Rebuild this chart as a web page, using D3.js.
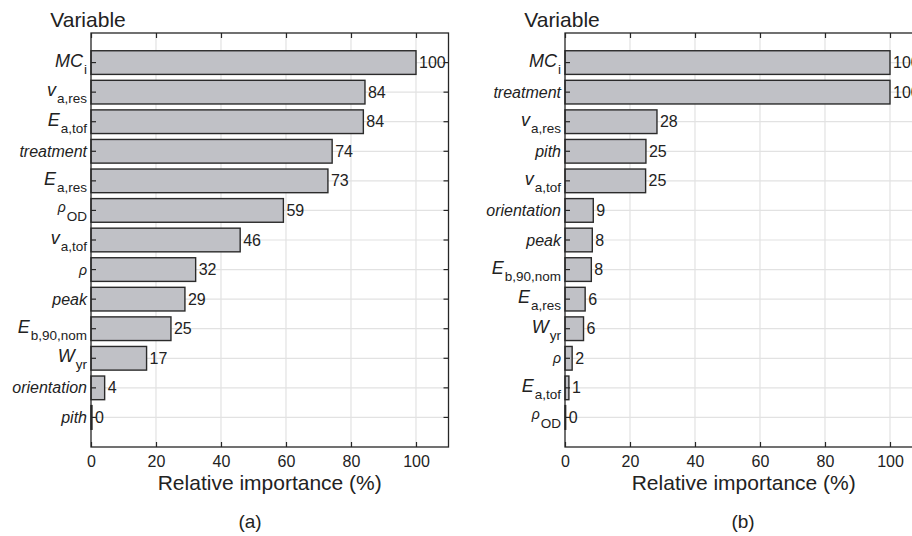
<!DOCTYPE html>
<html>
<head>
<meta charset="utf-8">
<script src="https://cdn.jsdelivr.net/npm/d3@7"></script>
<style>
  body { margin: 0; background: #fff; }
  svg { display: block; font-family: "Liberation Sans", Arial, Helvetica, sans-serif; }
  .grid line { stroke: #e2e2e2; stroke-width: 1.2; }
  .bar { fill: #c0c1c6; stroke: #2b2b2b; stroke-width: 1.4; }
</style>
</head>
<body>
<div id="chart"></div>
<script>
// label keys: each variable is drawn as main (italic) + optional subscript
var varsA   = ["MCi", "vares", "Eatof", "treatment", "Eares", "rhoOD", "vatof", "rho", "peak", "Eb90", "Wyr", "orientation", "pith"];
var valuesA = [100, 84.3, 83.8, 74.2, 72.9, 59.2, 45.9, 32.2, 28.9, 24.6, 17.1, 4.2, 0.3];

var varsB   = ["MCi", "treatment", "vares", "pith", "vatof", "orientation", "peak", "Eb90", "Eares", "Wyr", "rho", "Eatof", "rhoOD"];
var valuesB = [100, 100, 28.3, 24.9, 24.8, 8.7, 8.4, 8.1, 6.2, 5.7, 2.2, 1.2, 0.2];

var xTicks = [0, 20, 40, 60, 80, 100];

var labelParts = {
  MCi:         {main: "MC", sub: "i"},
  vares:       {main: "v", sub: "a,res"},
  Eatof:       {main: "E", sub: "a,tof"},
  treatment:   {main: "treatment"},
  Eares:       {main: "E", sub: "a,res"},
  rhoOD:       {rho: true, sub: "OD"},
  vatof:       {main: "v", sub: "a,tof"},
  rho:         {rho: true},
  peak:        {main: "peak"},
  Eb90:        {main: "E", sub: "b,90,nom"},
  Wyr:         {main: "W", sub: "yr"},
  orientation: {main: "orientation"},
  pith:        {main: "pith"}
};

var W = 912, H = 536;
var svg = d3.select("#chart").append("svg")
    .attr("width", W)
    .attr("height", H);

function drawPanel(x0, vars, values, caption, capX) {
  var top = 33, bottom = 447;
  var x = d3.scaleLinear().domain([0, 110]).range([x0, x0 + 357.5]);
  var slot = (bottom - top) / 14;
  var y = d3.scaleBand()
    .domain(vars)
    .range([top + slot / 2, bottom - slot / 2])
    .paddingInner(0.2)
    .paddingOuter(0.1);
  var cy = function(d) { return y(d) + y.bandwidth() / 2; };

  var g = svg.append("g");

  // grid
  var grid = g.append("g").attr("class", "grid");
  grid.selectAll(".vg").data(xTicks.filter(function(t) { return t > 0; }))
    .enter().append("line")
      .attr("x1", function(d) { return x(d); })
      .attr("x2", function(d) { return x(d); })
      .attr("y1", top).attr("y2", bottom);
  grid.selectAll(".hg").data(vars)
    .enter().append("line")
      .attr("x1", x(0)).attr("x2", x(110))
      .attr("y1", cy).attr("y2", cy);

  // bars
  g.selectAll(".bar").data(vars)
    .enter().append("rect")
      .attr("class", "bar")
      .attr("x", x(0))
      .attr("y", function(d) { return y(d); })
      .attr("width", function(d, i) { return x(values[i]) - x(0); })
      .attr("height", y.bandwidth());

  // value labels
  g.selectAll(".val").data(vars)
    .enter().append("text")
      .attr("x", function(d, i) { return x(values[i]) + 3; })
      .attr("y", function(d) { return cy(d) + 5.5; })
      .style("font-size", "16px")
      .attr("fill", "#222")
      .text(function(d, i) { return Math.round(values[i]); });

  // axes (ticks inward)
  var bAxis = g.append("g")
    .attr("transform", "translate(0," + bottom + ")")
    .call(d3.axisBottom(x).tickValues(xTicks).tickSizeInner(-5).tickSizeOuter(0).tickPadding(9));
  var tAxis = g.append("g")
    .attr("transform", "translate(0," + top + ")")
    .call(d3.axisTop(x).tickValues(xTicks).tickSizeInner(-5).tickSizeOuter(0).tickFormat(""));
  var lAxis = g.append("g")
    .attr("transform", "translate(" + x(0) + ",0)")
    .call(d3.axisLeft(y).tickSizeInner(-5).tickSizeOuter(0).tickFormat(""));
  var rAxis = g.append("g")
    .attr("transform", "translate(" + x(110) + ",0)")
    .call(d3.axisRight(y).tickSizeInner(-5).tickSizeOuter(0).tickFormat(""));
  [bAxis, tAxis, lAxis, rAxis].forEach(function(a) {
    a.select(".domain").remove();
    a.selectAll("line").attr("stroke", "#262626").attr("stroke-width", 1.2);
  });
  bAxis.selectAll("text").style("font-size", "16px").attr("fill", "#222");

  // box
  g.append("rect")
    .attr("x", x(0)).attr("y", top)
    .attr("width", x(110) - x(0)).attr("height", bottom - top)
    .attr("fill", "none").attr("stroke", "#262626").attr("stroke-width", 1.3);

  // y tick labels with subscripts
  vars.forEach(function(v) {
    var p = labelParts[v];
    var c = cy(v);
    var t = g.append("text")
      .attr("x", x(0) - 4)
      .attr("y", c + (p.sub || p.rho ? 4 : 5.5))
      .attr("text-anchor", "end")
      .attr("fill", "#222")
      .style("font-size", "16px");
    if (p.rho) {
      t.append("tspan").style("font-style", "italic").style("font-size", "14px")
        .attr("dy", p.sub ? -2 : 1).text("ρ");
    } else {
      t.append("tspan").style("font-style", "italic")
        .style("font-size", p.sub ? "18px" : "16px").text(p.main);
    }
    if (p.sub) {
      t.append("tspan").style("font-size", "13.5px").attr("dx", 1)
        .attr("dy", p.rho ? 9 : 7).text(p.sub);
    }
  });

  // titles
  g.append("text")
    .attr("x", x(0) - 3).attr("y", 27)
    .attr("text-anchor", "middle")
    .style("font-size", "21px").attr("fill", "#222")
    .text("Variable");
  g.append("text")
    .attr("x", (x(0) + x(110)) / 2).attr("y", 490)
    .attr("text-anchor", "middle")
    .style("font-size", "21px").attr("fill", "#222")
    .text("Relative importance (%)");
  g.append("text")
    .attr("x", capX).attr("y", 528)
    .attr("text-anchor", "middle")
    .style("font-size", "19px").attr("fill", "#222")
    .text(caption);
}

drawPanel(91, varsA, valuesA, "(a)", 250);
drawPanel(565, varsB, valuesB, "(b)", 743);
</script>
</body>
</html>
